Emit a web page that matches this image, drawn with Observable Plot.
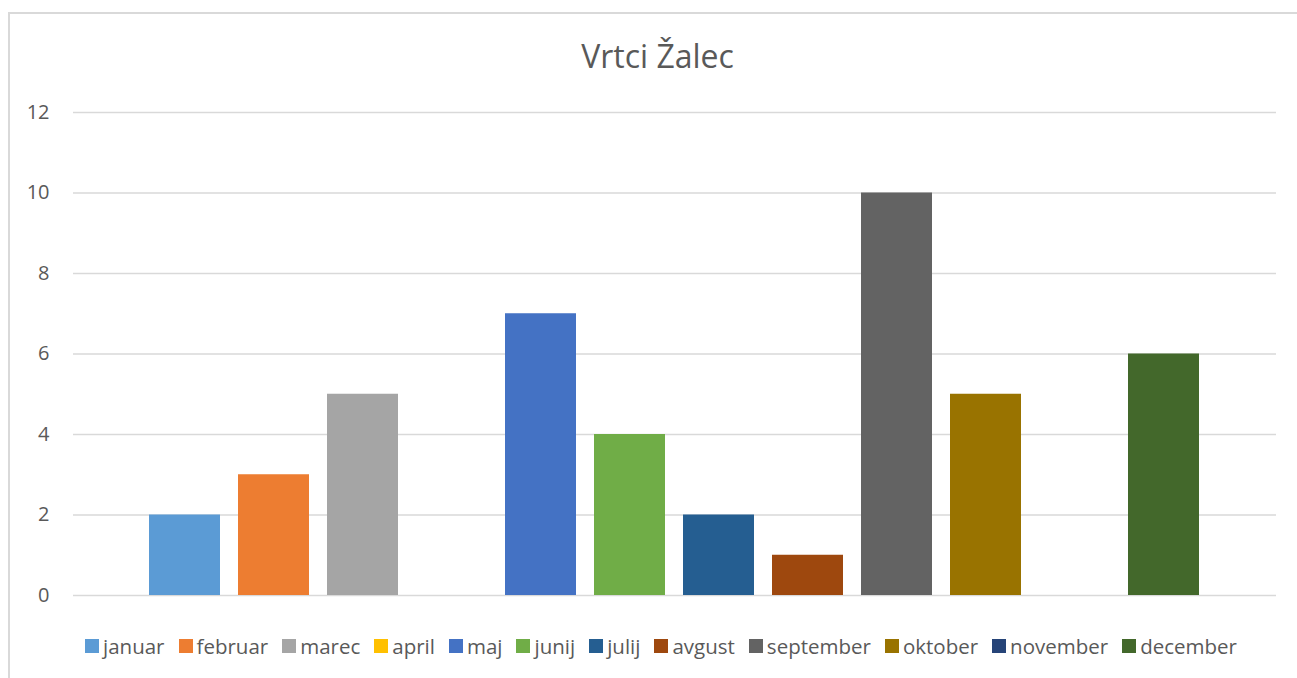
<!DOCTYPE html>
<html>
<head>
<meta charset="utf-8">
<script src="https://cdn.jsdelivr.net/npm/d3@7"></script>
<script src="https://cdn.jsdelivr.net/npm/@observablehq/plot@0.6"></script>
<style>
  html, body { margin: 0; padding: 0; background: #fff; }
  body { width: 1297px; height: 678px; position: relative; overflow: hidden; font-family: "Open Sans", Lato, sans-serif; }
  #frame { position: absolute; left: 8px; top: 12px; width: 1400px; height: 800px; border-left: 2px solid #d9d9d9; border-top: 2px solid #d9d9d9; box-sizing: border-box; }
  #title { position: absolute; left: 0; width: 1315px; top: 40px; text-align: center; font-size: 32px; color: #595959; line-height: 1; white-space: nowrap; }
  #chart { position: absolute; left: 0; top: 0; }
  #legend { position: absolute; left: 0; width: 1322px; top: 636px; display: flex; justify-content: center; gap: 14px; font-size: 20.5px; color: #595959; line-height: 1; white-space: nowrap; }
  .item { display: flex; align-items: center; gap: 4px; }
  .sw { width: 14px; height: 14px; display: inline-block; }
</style>
</head>
<body>
<div id="frame"></div>
<div id="title">Vrtci Žalec</div>
<div id="chart"></div>
<div id="legend"></div>
<script>
const months = ["januar","februar","marec","april","maj","junij","julij","avgust","september","oktober","november","december"];
const values = [2,3,5,0,7,4,2,1,10,5,0,6];
const colors = ["#5B9BD5","#ED7D31","#A5A5A5","#FFC000","#4472C4","#70AD47","#255E91","#9E480E","#636363","#997300","#264478","#43682B"];
const yTicks = [0,2,4,6,8,10,12];

const data = months.map((m, i) => ({month: m, value: values[i]}));

const plot = Plot.plot({
  width: 1297,
  height: 620,
  marginTop: 112,
  marginBottom: 25,
  marginLeft: 73,
  marginRight: 21,
  style: {fontFamily: "'Open Sans', Lato, sans-serif", fontSize: "20px", color: "#595959", background: "transparent"},
  x: {domain: months, paddingInner: 0.2, paddingOuter: 0.85, axis: null},
  y: {domain: [0, 12], ticks: yTicks, tickSize: 0, tickPadding: 24, label: null},
  color: {domain: months, range: colors},
  marks: [
    Plot.ruleY(yTicks, {stroke: "#d9d9d9", strokeWidth: 1.5}),
    Plot.barY(data, {x: "month", y: "value", fill: "month"})
  ]
});
document.getElementById("chart").appendChild(plot);

const legend = document.getElementById("legend");
months.forEach((m, i) => {
  const it = document.createElement("div");
  it.className = "item";
  const sw = document.createElement("span");
  sw.className = "sw";
  sw.style.background = colors[i];
  const t = document.createElement("span");
  t.textContent = m;
  it.appendChild(sw); it.appendChild(t);
  legend.appendChild(it);
});
</script>
</body>
</html>
